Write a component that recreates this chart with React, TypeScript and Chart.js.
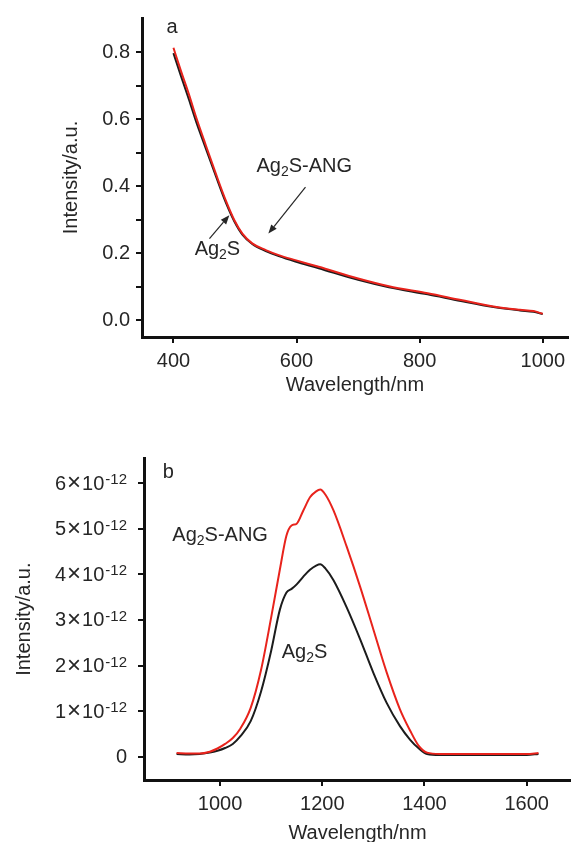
import React, { useEffect, useRef } from 'react';
import { Chart, registerables } from 'chart.js';

Chart.register(...registerables);

const FONT = '"Liberation Sans", Arial, Helvetica, sans-serif';
const TEXT = '#262626';
const AXIS = '#111111';
const RED = '#e8231c';
const BLACK = '#1c1c1c';

// ---------- Panel a: absorption ----------
const aWavelength = [400, 412, 425, 437, 450, 469, 485, 499, 512, 528, 550, 571, 598, 636, 700, 750, 813, 867, 920, 963, 985, 1000];
const aAg2S = [0.797, 0.73, 0.66, 0.592, 0.526, 0.43, 0.352, 0.295, 0.256, 0.228, 0.207, 0.192, 0.176, 0.156, 0.121, 0.099, 0.078, 0.058, 0.04, 0.03, 0.026, 0.019];
const aAg2SANG = [0.813, 0.745, 0.675, 0.605, 0.536, 0.437, 0.358, 0.299, 0.259, 0.23, 0.21, 0.195, 0.18, 0.16, 0.125, 0.102, 0.081, 0.061, 0.042, 0.032, 0.028, 0.02];
const aXTicks = [400, 600, 800, 1000];
const aYTicks = [0, 0.1, 0.2, 0.3, 0.4, 0.5, 0.6, 0.7, 0.8];
const aYLabelled = [0, 0.2, 0.4, 0.6, 0.8];

// ---------- Panel b: emission ----------
const bWavelength = [915, 940, 960, 980, 995, 1010, 1025, 1040, 1060, 1080, 1100, 1117, 1130, 1140, 1150, 1163, 1176, 1188, 1196, 1206, 1222, 1248, 1274, 1300, 1326, 1352, 1372, 1388, 1405, 1430, 1500, 1560, 1600, 1623];
const bAg2SANG = [0.08, 0.07, 0.07, 0.11, 0.18, 0.28, 0.41, 0.62, 1.07, 1.89, 3.05, 4.1, 4.85, 5.07, 5.11, 5.4, 5.69, 5.82, 5.86, 5.75, 5.4, 4.6, 3.73, 2.79, 1.85, 1.04, 0.57, 0.25, 0.09, 0.06, 0.06, 0.06, 0.06, 0.08];
const bAg2S = [0.06, 0.05, 0.06, 0.09, 0.13, 0.19, 0.28, 0.45, 0.78, 1.42, 2.32, 3.22, 3.6, 3.68, 3.78, 3.95, 4.1, 4.19, 4.22, 4.13, 3.87, 3.27, 2.58, 1.84, 1.18, 0.67, 0.37, 0.19, 0.06, 0.04, 0.04, 0.04, 0.04, 0.06];
const bXTicks = [1000, 1200, 1400, 1600];
const bYTicks = [0, 1, 2, 3, 4, 5, 6];
const bExponent = '-12';

// annotations (in data units)
const aLetter = { text: 'a', at: [388.7, 0.857] };
const aLabels = [
  { parts: ['Ag', '2', 'S-ANG'], at: [534.8, 0.442] },
  { parts: ['Ag', '2', 'S'], at: [434.4, 0.195] },
];
const aArrows = [
  { from: [614.5, 0.3975], to: [554.2, 0.259] },
  { from: [458.5, 0.2444], to: [490.8, 0.3136] },
];
const bLetter = { text: 'b', at: [887.9, 6.112] };
const bLabels = [
  { parts: ['Ag', '2', 'S-ANG'], at: [906.7, 4.737] },
  { parts: ['Ag', '2', 'S'], at: [1120.7, 2.158] },
];

function drawChem(ctx: CanvasRenderingContext2D, x: number, y: number, parts: string[]) {
  let cx = x;
  ctx.textAlign = 'left';
  ctx.textBaseline = 'alphabetic';
  parts.forEach((p, i) => {
    const sub = i % 2 === 1;
    ctx.font = `${sub ? 14 : 20}px ${FONT}`;
    ctx.fillText(p, cx, sub ? y + 4 : y);
    cx += ctx.measureText(p).width;
  });
}

function drawArrow(ctx: CanvasRenderingContext2D, x1: number, y1: number, x2: number, y2: number) {
  const ang = Math.atan2(y2 - y1, x2 - x1);
  const hl = 9;
  const hw = 3.5;
  const bx = x2 - hl * Math.cos(ang);
  const by = y2 - hl * Math.sin(ang);
  ctx.beginPath();
  ctx.moveTo(x1, y1);
  ctx.lineTo(bx, by);
  ctx.lineWidth = 1.2;
  ctx.strokeStyle = TEXT;
  ctx.stroke();
  ctx.beginPath();
  ctx.moveTo(x2, y2);
  ctx.lineTo(bx + hw * Math.sin(ang), by - hw * Math.cos(ang));
  ctx.lineTo(bx - hw * Math.sin(ang), by + hw * Math.cos(ang));
  ctx.closePath();
  ctx.fillStyle = TEXT;
  ctx.fill();
}

function annotationPlugin(letter: any, labels: any[], arrows: any[], expLabels: boolean) {
  return {
    id: 'annotations',
    afterDraw(chart: any) {
      const { ctx } = chart;
      const xs = chart.scales.x;
      const ys = chart.scales.y;
      ctx.save();
      ctx.fillStyle = TEXT;
      ctx.font = `20px ${FONT}`;
      ctx.textAlign = 'left';
      ctx.textBaseline = 'alphabetic';
      ctx.fillText(letter.text, xs.getPixelForValue(letter.at[0]), ys.getPixelForValue(letter.at[1]));
      labels.forEach((l) => {
        ctx.fillStyle = TEXT;
        drawChem(ctx, xs.getPixelForValue(l.at[0]), ys.getPixelForValue(l.at[1]), l.parts);
      });
      arrows.forEach((a) => {
        drawArrow(
          ctx,
          xs.getPixelForValue(a.from[0]),
          ys.getPixelForValue(a.from[1]),
          xs.getPixelForValue(a.to[0]),
          ys.getPixelForValue(a.to[1])
        );
      });
      if (expLabels) {
        const right = ys.right - 17;
        ys.ticks.forEach((t: any) => {
          const py = ys.getPixelForValue(t.value);
          ctx.fillStyle = TEXT;
          if (t.value === 0) {
            ctx.font = `20px ${FONT}`;
            ctx.textAlign = 'right';
            ctx.textBaseline = 'middle';
            ctx.fillText('0', right, py + 1);
            return;
          }
          ctx.font = `15px ${FONT}`;
          ctx.textAlign = 'right';
          ctx.textBaseline = 'alphabetic';
          ctx.fillText(bExponent, right, py + 1);
          const supW = ctx.measureText(bExponent).width;
          let cx = right - supW - 1;
          ctx.font = `20px ${FONT}`;
          ctx.textBaseline = 'middle';
          ctx.fillText('10', cx, py + 1);
          cx -= ctx.measureText('10').width + 1;
          ctx.font = `24px ${FONT}`;
          ctx.fillText('\u00d7', cx, py + 0.5);
          cx -= ctx.measureText('\u00d7').width + 1;
          ctx.font = `20px ${FONT}`;
          ctx.fillText(String(t.value), cx, py + 1);
        });
      }
      ctx.restore();
    },
  };
}

function axisCommon() {
  return {
    type: 'linear' as const,
    grid: { drawOnChartArea: false, drawTicks: true, tickLength: 6, color: AXIS, lineWidth: 2 },
    border: { display: true, color: AXIS, width: 3 },
  };
}

function makeConfig(
  xs: number[],
  s1: number[],
  s2: number[],
  xRange: [number, number],
  yRange: [number, number],
  xTicks: number[],
  yTicks: number[],
  yLabel: (v: number) => string,
  padTop: number,
  xAxisH: number,
  xTitlePad: number,
  yAxisW: number,
  yTitlePad: number,
  plugin: any
): any {
  return {
    type: 'line',
    data: {
      datasets: [
        {
          label: 'Ag2S-ANG',
          data: xs.map((w, i) => ({ x: w, y: s2[i] })),
          borderColor: RED,
          borderWidth: 2,
          pointRadius: 0,
          cubicInterpolationMode: 'monotone',
          order: 0,
        },
        {
          label: 'Ag2S',
          data: xs.map((w, i) => ({ x: w, y: s1[i] })),
          borderColor: BLACK,
          borderWidth: 2,
          pointRadius: 0,
          cubicInterpolationMode: 'monotone',
          order: 1,
        },
      ],
    },
    options: {
      animation: false,
      responsive: false,
      events: [],
      layout: { padding: { top: padTop, left: 0, right: 0, bottom: 0 } },
      plugins: { legend: { display: false }, tooltip: { enabled: false } },
      scales: {
        x: {
          ...axisCommon(),
          position: 'bottom',
          min: xRange[0],
          max: xRange[1],
          afterBuildTicks: (s: any) => {
            s.ticks = xTicks.map((v) => ({ value: v }));
          },
          afterFit: (s: any) => {
            s.height = xAxisH;
          },
          ticks: {
            font: { family: FONT, size: 20 },
            color: TEXT,
            padding: 6,
            maxRotation: 0,
            autoSkip: false,
            callback: (v: number) => String(v),
          },
          title: {
            display: true,
            text: 'Wavelength/nm',
            color: TEXT,
            font: { family: FONT, size: 20, lineHeight: 1 },
            padding: { top: 0, bottom: xTitlePad },
          },
        },
        y: {
          ...axisCommon(),
          position: 'left',
          min: yRange[0],
          max: yRange[1],
          afterBuildTicks: (s: any) => {
            s.ticks = yTicks.map((v) => ({ value: v }));
          },
          afterFit: (s: any) => {
            s.width = yAxisW;
          },
          ticks: {
            font: { family: FONT, size: 20 },
            color: TEXT,
            padding: 6,
            autoSkip: false,
            callback: (v: number) => yLabel(v),
          },
          title: {
            display: true,
            text: 'Intensity/a.u.',
            color: TEXT,
            font: { family: FONT, size: 20, lineHeight: 1 },
            padding: { top: yTitlePad, bottom: 0 },
          },
        },
      },
    },
    plugins: [plugin],
  };
}

export default function App() {
  const refA = useRef<HTMLCanvasElement>(null);
  const refB = useRef<HTMLCanvasElement>(null);

  useEffect(() => {
    const ca = new Chart(
      refA.current as HTMLCanvasElement,
      makeConfig(
        aWavelength,
        aAg2S,
        aAg2SANG,
        [348.9, 1040.8],
        [-0.0492, 0.9018],
        aXTicks,
        aYTicks,
        (v) => (aYLabelled.some((l) => Math.abs(l - v) < 1e-9) ? v.toFixed(1) : ''),
        17,
        63,
        5,
        142,
        61,
        annotationPlugin(aLetter, aLabels, aArrows, false)
      )
    );
    const cb = new Chart(
      refB.current as HTMLCanvasElement,
      makeConfig(
        bWavelength,
        bAg2S,
        bAg2SANG,
        [851.3, 1686.6],
        [-0.511, 6.544],
        bXTicks,
        bYTicks,
        () => '',
        40.3,
        62,
        -1,
        144,
        14,
        annotationPlugin(bLetter, bLabels, [], true)
      )
    );
    return () => {
      ca.destroy();
      cb.destroy();
    };
  }, []);

  return (
    <div
      style={{
        position: 'absolute',
        left: 0,
        top: 0,
        width: 571,
        height: 842,
        background: '#ffffff',
        overflow: 'hidden',
      }}
    >
      <canvas ref={refA} width={571} height={400} style={{ position: 'absolute', left: 0, top: 0 }} />
      <canvas ref={refB} width={571} height={424} style={{ position: 'absolute', left: 0, top: 418 }} />
    </div>
  );
}
